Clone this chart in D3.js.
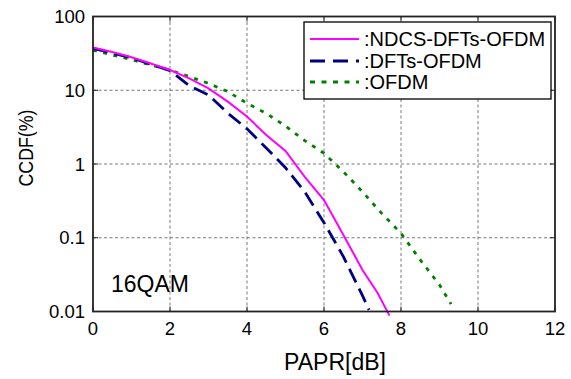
<!DOCTYPE html>
<html lang="en">
<head>
<meta charset="utf-8" />
<title>CCDF of PAPR</title>
<script src="https://d3js.org/d3.v7.min.js"></script>
<style>
  html, body { margin:0; padding:0; background:#fff; overflow:hidden; }
  svg { display:block; }
  text { font-family: "Liberation Sans", Arial, sans-serif; fill:#000; }
</style>
</head>
<body>
<svg id="svg" width="571" height="379"></svg>
<script>
// data
var papr = [0, 0.5, 1, 1.5, 2, 2.5, 3, 3.5, 4, 4.5, 5, 5.5, 6, 6.5, 7, 7.4, 7.7];
var ndcs = [38, 33, 28, 23, 18.8, 14.5, 10.6, 7.0, 4.4, 2.47, 1.5, 0.67, 0.325, 0.11, 0.0366, 0.0175, 0.0088];

var paprDfts = [0, 0.5, 1, 1.5, 2, 2.5, 3, 3.5, 4, 4.5, 5, 5.5, 6, 6.5, 7, 7.17];
var dfts = [37, 32, 27.5, 22.5, 18.5, 11.5, 8.6, 4.9, 3.0, 1.65, 0.89, 0.42, 0.16, 0.056, 0.0164, 0.0105];

var paprOfdm = [0, 0.5, 1, 1.5, 2, 2.5, 3, 3.5, 4, 4.5, 5, 5.5, 6, 6.5, 7, 7.5, 8, 8.5, 9, 9.3];
var ofdm = [35, 30, 26, 22, 18.8, 15.3, 12.4, 9.6, 6.65, 4.86, 3.27, 2.07, 1.4, 0.79, 0.42, 0.214, 0.115, 0.05, 0.023, 0.0126];

var xTicks = [0, 2, 4, 6, 8, 10, 12];
var yTicks = [0.01, 0.1, 1, 10, 100];
var yTickLabels = ["0.01", "0.1", "1", "10", "100"];
var legendNames = [":NDCS-DFTs-OFDM", ":DFTs-OFDM", ":OFDM"];

var svg = d3.select("svg");
var pLeft = 93, pRight = 555, pTop = 16.5, pBottom = 311.5;

var x = d3.scaleLinear().domain([0, 12]).range([pLeft, pRight]);
var y = d3.scaleLog().domain([0.01, 100]).range([pBottom, pTop]);

// grid
var grid = svg.append("g");
grid.selectAll(".gx")
    .data(xTicks.slice(1, -1))
    .join("line")
    .attr("x1", d => x(d)).attr("x2", d => x(d))
    .attr("y1", pTop).attr("y2", pBottom)
    .attr("stroke", "#555").attr("stroke-width", 0.8)
    .attr("stroke-dasharray", "3,2.5");
grid.selectAll(".gy")
    .data(yTicks.slice(1, -1))
    .join("line")
    .attr("x1", pLeft).attr("x2", pRight)
    .attr("y1", d => y(d)).attr("y2", d => y(d))
    .attr("stroke", "#555").attr("stroke-width", 0.8)
    .attr("stroke-dasharray", "3,2.5");

// inner tick marks
var ticks = svg.append("g").attr("stroke", "#222").attr("stroke-width", 1);
xTicks.forEach(function(d) {
    ticks.append("line").attr("x1", x(d)).attr("x2", x(d)).attr("y1", pBottom).attr("y2", pBottom - 5);
    ticks.append("line").attr("x1", x(d)).attr("x2", x(d)).attr("y1", pTop).attr("y2", pTop + 5);
});
yTicks.forEach(function(d) {
    ticks.append("line").attr("x1", pLeft).attr("x2", pLeft + 5).attr("y1", y(d)).attr("y2", y(d));
    ticks.append("line").attr("x1", pRight).attr("x2", pRight - 5).attr("y1", y(d)).attr("y2", y(d));
});

// curves
var line = d3.line()
    .x(d => x(d[0]))
    .y(d => y(d[1]));

svg.append("path")
    .attr("d", line(d3.zip(paprOfdm, ofdm)))
    .attr("fill", "none").attr("stroke", "#008000")
    .attr("stroke-width", 2.8).attr("stroke-dasharray", "4,6.5");

svg.append("path")
    .attr("d", line(d3.zip(paprDfts, dfts)))
    .attr("fill", "none").attr("stroke", "#000080")
    .attr("stroke-width", 2.8).attr("stroke-dasharray", "15,7");

svg.append("path")
    .attr("d", line(d3.zip(papr, ndcs)))
    .attr("fill", "none").attr("stroke", "#ff00ff")
    .attr("stroke-width", 2);

// frame
svg.append("rect")
    .attr("x", pLeft).attr("y", pTop)
    .attr("width", pRight - pLeft).attr("height", pBottom - pTop)
    .attr("fill", "none").attr("stroke", "#222").attr("stroke-width", 1.8);

// tick labels
svg.append("g").selectAll("text")
    .data(xTicks)
    .join("text")
    .attr("x", d => x(d)).attr("y", 335)
    .attr("text-anchor", "middle")
    .style("font-size", "18.5px")
    .text(d => d);

svg.append("g").selectAll("text")
    .data(yTicks)
    .join("text")
    .attr("x", 85).attr("y", d => y(d) + 6.5)
    .attr("text-anchor", "end")
    .style("font-size", "18.5px")
    .text((d, i) => yTickLabels[i]);

// axis titles
svg.append("text")
    .attr("x", 335).attr("y", 370)
    .attr("text-anchor", "middle")
    .style("font-size", "23px")
    .text("PAPR[dB]");

svg.append("text")
    .attr("transform", "translate(33,148) rotate(-90)")
    .attr("text-anchor", "middle")
    .attr("textLength", 77).attr("lengthAdjust", "spacingAndGlyphs")
    .style("font-size", "21px")
    .text("CCDF(%)");

svg.append("text")
    .attr("x", 111).attr("y", 291.5)
    .style("font-size", "23px")
    .text("16QAM");

// legend
var legend = svg.append("g");
legend.append("rect")
    .attr("x", 304).attr("y", 22).attr("width", 247).attr("height", 77)
    .attr("fill", "#fff").attr("stroke", "#000").attr("stroke-width", 1.3);

var legendColors = ["#ff00ff", "#000080", "#008000"];
var legendDash = [null, "15,8", "5,6.5"];
var legendWidth = [2, 2.8, 2.8];
var legendY = [39, 61, 82];

legendNames.forEach(function(name, i) {
    legend.append("line")
        .attr("x1", 310).attr("x2", 359)
        .attr("y1", legendY[i]).attr("y2", legendY[i])
        .attr("stroke", legendColors[i])
        .attr("stroke-width", legendWidth[i])
        .attr("stroke-dasharray", legendDash[i]);
    legend.append("text")
        .attr("x", 364).attr("y", legendY[i] + 6.5)
        .style("font-size", "20px")
        .text(name);
});
</script>
</body>
</html>
